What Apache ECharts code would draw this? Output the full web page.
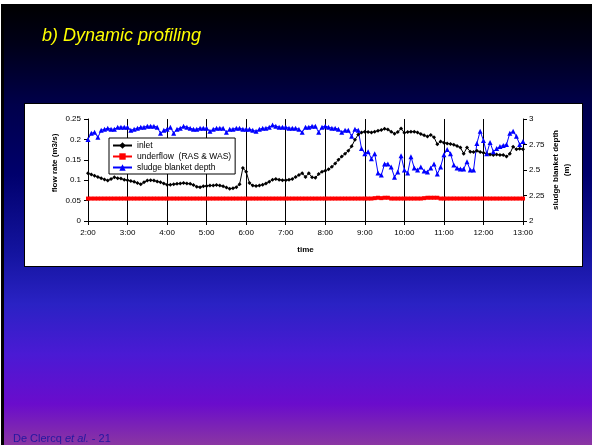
<!DOCTYPE html>
<html>
<head>
<meta charset="utf-8">
<script src="https://cdn.jsdelivr.net/npm/echarts@6/dist/echarts.min.js"></script>
<style>
  html, body { margin: 0; padding: 0; background: #ffffff; }
  #slide {
    position: absolute; left: 1px; top: 4px; width: 588px; height: 441px;
    border-left: 3px solid #000;
    background: linear-gradient(to bottom,
      #000000 0px, #000018 40px, #00004a 100px, #00006c 170px,
      #1414a0 250px, #2a22c4 300px, #4a1ad4 350px, #6a0ccc 400px, #8a36a2 441px);
  }
  #panel {
    position: absolute; left: 24px; top: 103px; width: 557px; height: 162px;
    background: #ffffff; border: 1px solid #000;
  }
  #chart { position: absolute; left: 0; top: 0; width: 592px; height: 445px; }
</style>
</head>
<body>
<div id="slide"></div>
<div id="panel"></div>
<div id="chart"></div>
<script>
// Settler measurements, sampled every 5 minutes from 2:00 to 13:00
const startMinute = 120, stepMinute = 5, endMinute = 780;
const times = [];
for (let m = startMinute; m <= endMinute; m += stepMinute) {
  times.push(Math.floor(m / 60) + ':' + String(m % 60).padStart(2, '0'));
}

// inlet flow rate (m3/s)
const inlet = [
  0.117,0.114,0.111,0.108,0.105,0.102,0.099,0.103,0.107,0.105,0.104,0.101,
  0.100,0.098,0.096,0.093,0.090,0.095,0.099,0.100,0.099,0.097,0.095,0.092,
  0.089,0.089,0.090,0.091,0.092,0.093,0.092,0.091,0.088,0.084,0.083,0.085,
  0.086,0.087,0.087,0.088,0.087,0.085,0.082,0.079,0.080,0.083,0.090,0.130,
  0.121,0.093,0.087,0.086,0.087,0.089,0.092,0.096,0.101,0.103,0.101,0.100,
  0.100,0.101,0.103,0.108,0.113,0.117,0.108,0.117,0.107,0.106,0.115,0.121,
  0.123,0.127,0.133,0.141,0.150,0.158,0.165,0.172,0.183,0.199,0.212,0.217,
  0.219,0.218,0.217,0.219,0.221,0.223,0.226,0.224,0.219,0.214,0.218,0.227,
  0.216,0.218,0.219,0.219,0.217,0.213,0.210,0.207,0.211,0.205,0.188,0.195,
  0.192,0.190,0.189,0.187,0.184,0.180,0.165,0.180,0.170,0.169,0.172,0.169,
  0.167,0.165,0.163,0.162,0.163,0.162,0.162,0.158,0.165,0.182,0.176,0.177,
  0.176
];

// underflow (RAS & WAS) flow rate (m3/s)
const underflow = [
  0.055,0.055,0.055,0.055,0.055,0.055,0.055,0.055,0.055,0.055,0.055,0.055,
  0.055,0.055,0.055,0.055,0.055,0.055,0.055,0.055,0.055,0.055,0.055,0.055,
  0.055,0.055,0.055,0.055,0.055,0.055,0.055,0.055,0.055,0.055,0.055,0.055,
  0.055,0.055,0.055,0.055,0.055,0.055,0.055,0.055,0.055,0.055,0.055,0.055,
  0.055,0.055,0.055,0.055,0.055,0.055,0.055,0.055,0.055,0.055,0.055,0.055,
  0.055,0.055,0.055,0.055,0.055,0.055,0.055,0.055,0.055,0.055,0.055,0.055,
  0.055,0.055,0.055,0.055,0.055,0.055,0.055,0.055,0.055,0.055,0.055,0.055,
  0.055,0.055,0.055,0.056,0.057,0.056,0.057,0.057,0.055,0.055,0.055,0.055,
  0.055,0.055,0.055,0.055,0.055,0.055,0.056,0.057,0.057,0.057,0.057,0.055,
  0.055,0.055,0.055,0.055,0.055,0.055,0.055,0.055,0.055,0.055,0.055,0.055,
  0.055,0.055,0.055,0.055,0.055,0.055,0.055,0.055,0.055,0.055,0.055,0.055,
  0.055
];

// sludge blanket depth (m)
const sludge = [
  2.80,2.86,2.87,2.82,2.89,2.90,2.91,2.90,2.90,2.92,2.92,2.92,
  2.92,2.89,2.90,2.91,2.92,2.92,2.93,2.93,2.93,2.92,2.86,2.89,
  2.90,2.92,2.86,2.90,2.91,2.93,2.92,2.91,2.90,2.90,2.91,2.91,
  2.91,2.88,2.90,2.91,2.91,2.91,2.87,2.90,2.90,2.91,2.91,2.90,
  2.90,2.90,2.89,2.88,2.90,2.91,2.91,2.92,2.94,2.93,2.92,2.92,
  2.92,2.91,2.91,2.91,2.90,2.87,2.92,2.92,2.93,2.93,2.87,2.92,
  2.93,2.92,2.91,2.91,2.90,2.87,2.89,2.89,2.83,2.90,2.89,2.71,
  2.66,2.68,2.61,2.66,2.47,2.45,2.56,2.56,2.53,2.43,2.48,2.64,
  2.50,2.47,2.63,2.52,2.50,2.53,2.49,2.48,2.52,2.56,2.46,2.53,
  2.65,2.70,2.66,2.55,2.52,2.51,2.51,2.58,2.50,2.50,2.76,2.88,
  2.79,2.66,2.77,2.68,2.71,2.73,2.74,2.75,2.86,2.88,2.83,2.75,
  2.78
];

const FONT = '"Liberation Sans", Arial, sans-serif';
const axisText = { color: '#000', fontSize: 8, fontFamily: FONT };
const axisNameText = { color: '#000', fontSize: 8, fontWeight: 'bold', fontFamily: FONT };

const chart = echarts.init(document.getElementById('chart'), null, { renderer: 'canvas' });
chart.setOption({
  animation: false,
  backgroundColor: 'transparent',
  textStyle: { fontFamily: FONT },
  title: {
    text: 'b) Dynamic profiling',
    left: 42, top: 27, padding: 0,
    textStyle: { color: '#ffff00', fontStyle: 'italic', fontWeight: 'normal', fontSize: 18, fontFamily: FONT }
  },
  graphic: [{
    type: 'text', left: 13, top: 433,
    style: {
      text: '{a|De Clercq }{b|et al.}{a| - 21}',
      rich: {
        a: { fontSize: 11, fill: '#2418a0', fontFamily: FONT },
        b: { fontSize: 11, fill: '#2418a0', fontStyle: 'italic', fontFamily: FONT }
      }
    }
  }],
  legend: {
    orient: 'vertical', left: 109, top: 138,
    backgroundColor: '#fff', borderColor: '#000', borderWidth: 1,
    padding: [3, 4, 2, 3], itemGap: 2, itemWidth: 19, itemHeight: 8,
    textStyle: { color: '#000', fontSize: 8.5, fontFamily: FONT },
    data: ['inlet', 'underflow  (RAS & WAS)', 'sludge blanket depth']
  },
  grid: { left: 88, top: 119, width: 435, height: 102 },
  xAxis: {
    type: 'category', data: times, boundaryGap: false,
    name: 'time', nameLocation: 'middle', nameGap: 25, nameMoveOverlap: false,
    nameTextStyle: axisNameText,
    axisLine: { lineStyle: { color: '#000', width: 1 } },
    axisTick: { interval: 11, length: 4, lineStyle: { color: '#000' } },
    axisLabel: { interval: 11, margin: 8, ...axisText },
    splitLine: { show: true, interval: 11, lineStyle: { color: '#000', width: 1 } }
  },
  yAxis: [{
    type: 'value', min: 0, max: 0.25, interval: 0.05,
    name: 'flow rate (m3/s)', nameLocation: 'middle', nameRotate: 90, nameGap: 29,
    nameMoveOverlap: false,
    nameTextStyle: { ...axisNameText, padding: [0, 0, 0, 14] },
    axisLine: { show: true, lineStyle: { color: '#000', width: 1 } },
    axisTick: { show: true, length: 4, lineStyle: { color: '#000' } },
    axisLabel: { margin: 7, ...axisText },
    splitLine: { show: false }
  }, {
    type: 'value', min: 2, max: 3, interval: 0.25, position: 'right',
    name: 'sludge blanket depth\n(m)', nameLocation: 'middle', nameRotate: 90, nameGap: 27,
    nameMoveOverlap: false,
    nameTextStyle: { ...axisNameText, lineHeight: 11 },
    axisLine: { show: true, lineStyle: { color: '#000', width: 1 } },
    axisTick: { show: true, length: 4, lineStyle: { color: '#000' } },
    axisLabel: { margin: 6, ...axisText },
    splitLine: { show: false }
  }],
  series: [{
    name: 'inlet', type: 'line', data: inlet, yAxisIndex: 0,
    symbol: 'diamond', symbolSize: 4, showSymbol: true, showAllSymbol: true,
    lineStyle: { color: '#000', width: 1 }, itemStyle: { color: '#000' }
  }, {
    name: 'underflow  (RAS & WAS)', type: 'line', data: underflow, yAxisIndex: 0,
    symbol: 'rect', symbolSize: 4, showSymbol: true, showAllSymbol: true,
    lineStyle: { color: '#ff0000', width: 1 }, itemStyle: { color: '#ff0000' }
  }, {
    name: 'sludge blanket depth', type: 'line', data: sludge, yAxisIndex: 1,
    symbol: 'triangle', symbolSize: 5, showSymbol: true, showAllSymbol: true,
    lineStyle: { color: '#0000ff', width: 1 }, itemStyle: { color: '#0000ff' }
  }]
});
</script>
</body>
</html>
